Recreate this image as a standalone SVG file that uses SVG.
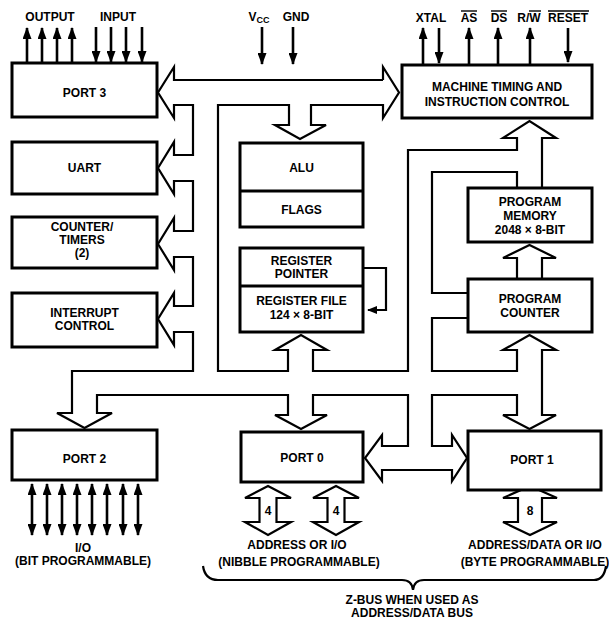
<svg xmlns="http://www.w3.org/2000/svg" width="609" height="626" viewBox="0 0 609 626">
<defs>
<marker id="ah" markerUnits="userSpaceOnUse" markerWidth="12" markerHeight="9" refX="11" refY="4.5" orient="auto-start-reverse"><path d="M0,0 L12,4.5 L0,9 z" fill="#000"/></marker>
<marker id="sm" markerUnits="userSpaceOnUse" markerWidth="10" markerHeight="8" refX="9" refY="4" orient="auto"><path d="M0,0 L10,4 L0,8 z" fill="#000"/></marker>
</defs>
<style>
.box{fill:#fff;stroke:#000;stroke-width:3}
.bus{fill:none;stroke:#000;stroke-width:2.2;stroke-linejoin:miter}
.sig{stroke:#000;stroke-width:2.6;fill:none}
.ov{stroke:#000;stroke-width:1.4}
text{font-family:"Liberation Sans",Arial,sans-serif;font-weight:bold;font-size:12px;text-anchor:middle;fill:#000}
</style>
<rect width="609" height="626" fill="#fff"/>

<g id="connectors">
<path class="bus" d="M383,80 L174,80 L174,67 L158,92.5 L174,118 L174,105 L193,105 L193,155 L174,155 L174,142 L158,168 L174,194 L174,181 L193,181 L193,231 L174,231 L174,218 L158,244 L174,270 L174,257 L193,257 L193,306 L174,306 L174,293 L158,319 L174,345 L174,332 L193,332 L193,371 L72,371 L72,413 L57,413 L84.5,428 L112,413 L97,413 L97,395 L288,395 L288,415 L275,415 L301,429 L327,415 L313,415 L313,395 L408,395 L408,446 L382,446 L382,435 L365,458 L382,481 L382,470 L452,470 L452,481 L467,458 L452,435 L452,446 L432,446 L432,395 L517,395 L517,415 L503,415 L529.5,429 L556,415 L542,415 L542,350 L556,350 L529.5,335 L503,350 L517,350 L517,371 L432,371 L432,318 L468,318"/>
<path class="bus" d="M468,293 L432,293 L432,172 L517,172 L517,188"/>
<path class="bus" d="M542,188 L542,138 L556,138 L529.5,121 L503,138 L517,138 L517,150 L408,150 L408,371 L313,371 L313,350 L327,350 L301,335 L275,350 L288,350 L288,371 L218,371 L218,105 L289,105 L289,125 L275,125 L300,139 L326,125 L311,125 L311,105 L383,105 L383,118 L399,92.5 L383,67 L383,80"/>
<path class="bus" d="M517,279 L517,258 L503,258 L529.5,245 L556,258 L542,258 L542,279"/>
<path class="bus" d="M363,268 H386 V310 H368" marker-end="url(#sm)"/>
<path class="bus" d="M268,486 L291,498 L276.5,498 L276.5,522 L291,522 L268,535 L245,522 L259.5,522 L259.5,498 L245,498 Z"/>
<path class="bus" d="M336,486 L359,498 L344.5,498 L344.5,522 L359,522 L336,535 L313,522 L327.5,522 L327.5,498 L313,498 Z"/>
<path class="bus" d="M530,486 L557,498 L542,498 L542,522 L557,522 L530,535 L503,522 L518,522 L518,498 L503,498 Z"/>
<g class="sig">
<line x1="27" y1="63" x2="27" y2="28" marker-end="url(#ah)"/>
<line x1="42" y1="63" x2="42" y2="28" marker-end="url(#ah)"/>
<line x1="57" y1="63" x2="57" y2="28" marker-end="url(#ah)"/>
<line x1="72" y1="63" x2="72" y2="28" marker-end="url(#ah)"/>
<line x1="96" y1="27" x2="96" y2="62" marker-end="url(#ah)"/>
<line x1="111" y1="27" x2="111" y2="62" marker-end="url(#ah)"/>
<line x1="126" y1="27" x2="126" y2="62" marker-end="url(#ah)"/>
<line x1="142" y1="27" x2="142" y2="62" marker-end="url(#ah)"/>
<line x1="262" y1="27" x2="262" y2="64" marker-end="url(#ah)"/>
<line x1="293" y1="27" x2="293" y2="64" marker-end="url(#ah)"/>
<line x1="423" y1="65" x2="423" y2="28" marker-end="url(#ah)"/>
<line x1="439" y1="28" x2="439" y2="63" marker-end="url(#ah)"/>
<line x1="469" y1="65" x2="469" y2="28" marker-end="url(#ah)"/>
<line x1="498" y1="65" x2="498" y2="28" marker-end="url(#ah)"/>
<line x1="530" y1="65" x2="530" y2="28" marker-end="url(#ah)"/>
<line x1="568" y1="28" x2="568" y2="62" marker-end="url(#ah)"/>
<line x1="32" y1="484" x2="32" y2="535" marker-start="url(#ah)" marker-end="url(#ah)"/>
<line x1="47" y1="484" x2="47" y2="535" marker-start="url(#ah)" marker-end="url(#ah)"/>
<line x1="62" y1="484" x2="62" y2="535" marker-start="url(#ah)" marker-end="url(#ah)"/>
<line x1="77" y1="484" x2="77" y2="535" marker-start="url(#ah)" marker-end="url(#ah)"/>
<line x1="92" y1="484" x2="92" y2="535" marker-start="url(#ah)" marker-end="url(#ah)"/>
<line x1="107" y1="484" x2="107" y2="535" marker-start="url(#ah)" marker-end="url(#ah)"/>
<line x1="123" y1="484" x2="123" y2="535" marker-start="url(#ah)" marker-end="url(#ah)"/>
<line x1="138" y1="484" x2="138" y2="535" marker-start="url(#ah)" marker-end="url(#ah)"/>
</g>
<path class="bus" d="M203,566 Q205,580 218,580 L402,580 Q412,580 413,590 Q414,580 424,580 L594,580 Q604,580 606,566"/>
</g>

<g id="labels">
<text x="50" y="21">OUTPUT</text>
<text x="118" y="21">INPUT</text>
<text x="259" y="21">V<tspan font-size="9" dy="2">CC</tspan></text>
<text x="296" y="21">GND</text>
<text x="431" y="22">XTAL</text>
<text x="469" y="22">AS</text>
<text x="499" y="22">DS</text>
<text x="529" y="22">R/W</text>
<text x="568" y="22">RESET</text>
<line class="ov" x1="461" y1="11" x2="477" y2="11"/>
<line class="ov" x1="491" y1="11" x2="507" y2="11"/>
<line class="ov" x1="529" y1="11" x2="541" y2="11"/>
<line class="ov" x1="548" y1="11" x2="589" y2="11"/>
<text x="83" y="552">I/O</text>
<text x="83" y="565">(BIT PROGRAMMABLE)</text>
<text x="297" y="549">ADDRESS OR I/O</text>
<text x="299" y="566">(NIBBLE PROGRAMMABLE)</text>
<text x="535" y="549">ADDRESS/DATA OR I/O</text>
<text x="535" y="566">(BYTE PROGRAMMABLE)</text>
<text x="412" y="604">Z-BUS WHEN USED AS</text>
<text x="412" y="617">ADDRESS/DATA BUS</text>
<text x="268" y="515" font-size="11">4</text>
<text x="336" y="515" font-size="11">4</text>
<text x="530" y="515" font-size="11">8</text>
</g>

<g id="port3"><rect class="box" x="12" y="63" width="145" height="54"/><text x="84.5" y="97">PORT 3</text></g>
<g id="uart"><rect class="box" x="12" y="142" width="145" height="52"/><text x="84.5" y="172">UART</text></g>
<g id="counter-timers"><rect class="box" x="12" y="217" width="145" height="51"/><text x="82" y="231">COUNTER/</text><text x="82" y="244">TIMERS</text><text x="82" y="257">(2)</text></g>
<g id="interrupt-control"><rect class="box" x="12" y="293" width="145" height="54"/><text x="84.5" y="317">INTERRUPT</text><text x="84.5" y="330">CONTROL</text></g>
<g id="port2"><rect class="box" x="12" y="430" width="145" height="50"/><text x="84.5" y="463">PORT 2</text></g>
<g id="alu-flags"><rect class="box" x="240" y="143" width="123" height="84"/><line x1="240" y1="191" x2="363" y2="191" stroke="#000" stroke-width="3"/><text x="301.5" y="172">ALU</text><text x="301.5" y="214">FLAGS</text></g>
<g id="register"><rect class="box" x="240" y="248" width="123" height="84"/><line x1="240" y1="286" x2="363" y2="286" stroke="#000" stroke-width="3"/><text x="301.5" y="265">REGISTER</text><text x="301.5" y="278">POINTER</text><text x="301.5" y="305">REGISTER FILE</text><text x="301.5" y="319">124 × 8-BIT</text></g>
<g id="machine-timing"><rect class="box" x="402" y="65" width="190" height="53"/><text x="497" y="91">MACHINE TIMING AND</text><text x="497" y="106">INSTRUCTION CONTROL</text></g>
<g id="program-memory"><rect class="box" x="468" y="188" width="124" height="54"/><text x="530" y="206">PROGRAM</text><text x="530" y="220">MEMORY</text><text x="530" y="234">2048 × 8-BIT</text></g>
<g id="program-counter"><rect class="box" x="468" y="279" width="124" height="53"/><text x="530" y="303">PROGRAM</text><text x="530" y="317">COUNTER</text></g>
<g id="port0"><rect class="box" x="241" y="432" width="122" height="50"/><text x="302" y="462">PORT 0</text></g>
<g id="port1"><rect class="box" x="468" y="431" width="133" height="59"/><text x="532" y="464">PORT 1</text></g>
</svg>
